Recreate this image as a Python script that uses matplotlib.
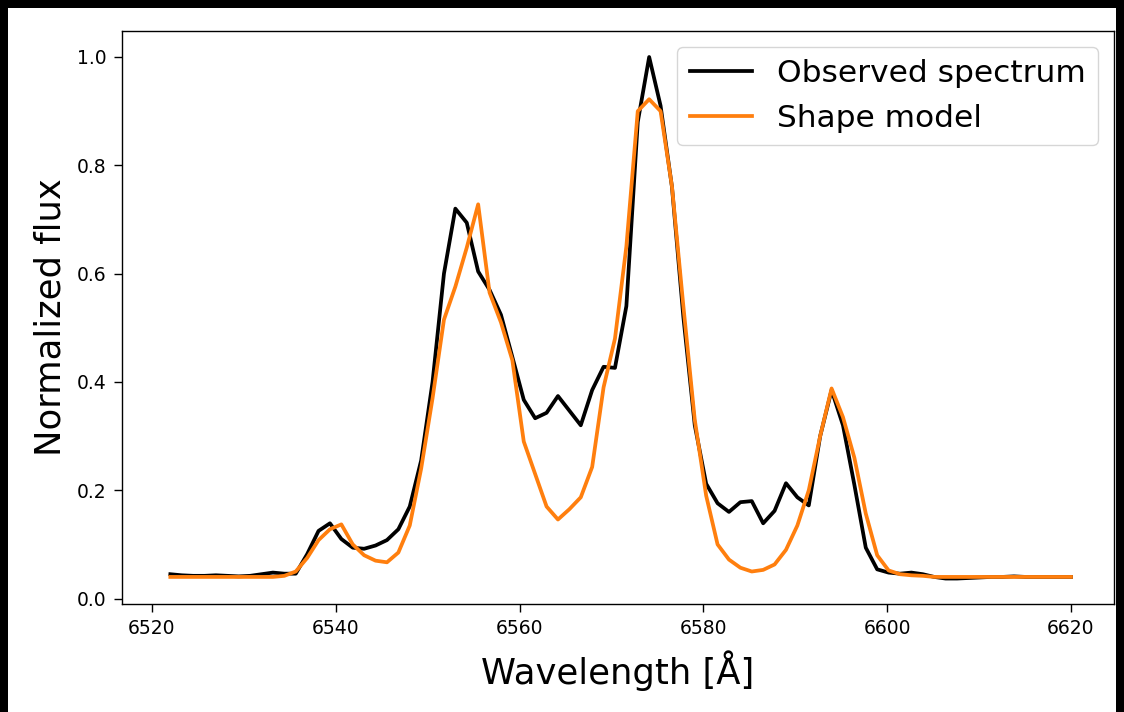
#----------------------------------Imports-------------------------------------------------
import matplotlib
matplotlib.use('Agg')
import matplotlib.pyplot as plt
from matplotlib.patches import Rectangle
import numpy as np

#----------------------------------Data----------------------------------------------------
# wavelength grid of the spectrum (80 pixels, ~1.24 A each)
wavelength = np.linspace(6522.0, 6620.0, 80)

observed = [0.045, 0.043, 0.042, 0.042, 0.043, 0.042, 0.041, 0.042, 0.045, 0.048,
            0.046, 0.046, 0.082, 0.125, 0.139, 0.110, 0.094, 0.092, 0.098, 0.108,
            0.128, 0.170, 0.255, 0.400, 0.600, 0.720, 0.694, 0.604, 0.570, 0.524,
            0.446, 0.367, 0.333, 0.343, 0.374, 0.347, 0.320, 0.385, 0.428, 0.426,
            0.540, 0.880, 1.000, 0.910, 0.760, 0.520, 0.320, 0.212, 0.176, 0.160,
            0.178, 0.180, 0.139, 0.162, 0.213, 0.187, 0.172, 0.300, 0.385, 0.320,
            0.210, 0.094, 0.054, 0.048, 0.046, 0.048, 0.045, 0.040, 0.037, 0.037,
            0.038, 0.039, 0.040, 0.040, 0.041, 0.040, 0.040, 0.040, 0.040, 0.040]

model = [0.040, 0.040, 0.040, 0.040, 0.040, 0.040, 0.040, 0.040, 0.040, 0.040,
         0.042, 0.050, 0.075, 0.108, 0.128, 0.137, 0.100, 0.080, 0.070, 0.067,
         0.085, 0.135, 0.240, 0.370, 0.515, 0.576, 0.648, 0.728, 0.565, 0.510,
         0.440, 0.290, 0.230, 0.170, 0.146, 0.165, 0.187, 0.243, 0.390, 0.480,
         0.650, 0.900, 0.922, 0.900, 0.761, 0.540, 0.330, 0.190, 0.100, 0.072,
         0.057, 0.050, 0.053, 0.063, 0.090, 0.135, 0.200, 0.300, 0.388, 0.335,
         0.260, 0.157, 0.080, 0.052, 0.045, 0.043, 0.042, 0.040, 0.040, 0.040,
         0.040, 0.040, 0.040, 0.040, 0.040, 0.040, 0.040, 0.040, 0.040, 0.040]

#----------------------------------Figure--------------------------------------------------
W, H = 1124, 712
fig = plt.figure(figsize=(W / 100, H / 100), dpi=100)
fig.patch.set_facecolor('black')
# white canvas inside the dark frame, kept behind the axes
frame = Rectangle((8 / W, 0), (1116 - 8) / W, (H - 8) / H,
                  transform=fig.transFigure, facecolor='white',
                  edgecolor='none', zorder=-10)
fig.add_artist(frame)

ax = fig.add_axes([122 / W, 1 - 604 / H, (1114 - 122) / W, (604 - 31) / H])
ax.plot(wavelength, observed, color='black', lw=2.7, label='Observed spectrum')
ax.plot(wavelength, model, color='#ff7f0e', lw=2.7, label='Shape model')

ax.set_xlim(6516.74, 6624.68)
ax.set_ylim(-0.01, 1.048)
ax.set_xticks([6520, 6540, 6560, 6580, 6600, 6620])
ax.set_yticks([0.0, 0.2, 0.4, 0.6, 0.8, 1.0])
ax.tick_params(labelsize=13.5, width=1.0, length=6, pad=5)
for s in ax.spines.values():
    s.set_linewidth(1.0)

ax.set_xlabel('Wavelength [Å]', fontsize=25.5, labelpad=9)
ax.set_ylabel('Normalized flux', fontsize=25.5, labelpad=7)
ax.legend(loc='upper right', fontsize=22.5)

fig.savefig('out.png', dpi=100, facecolor=fig.get_facecolor())
